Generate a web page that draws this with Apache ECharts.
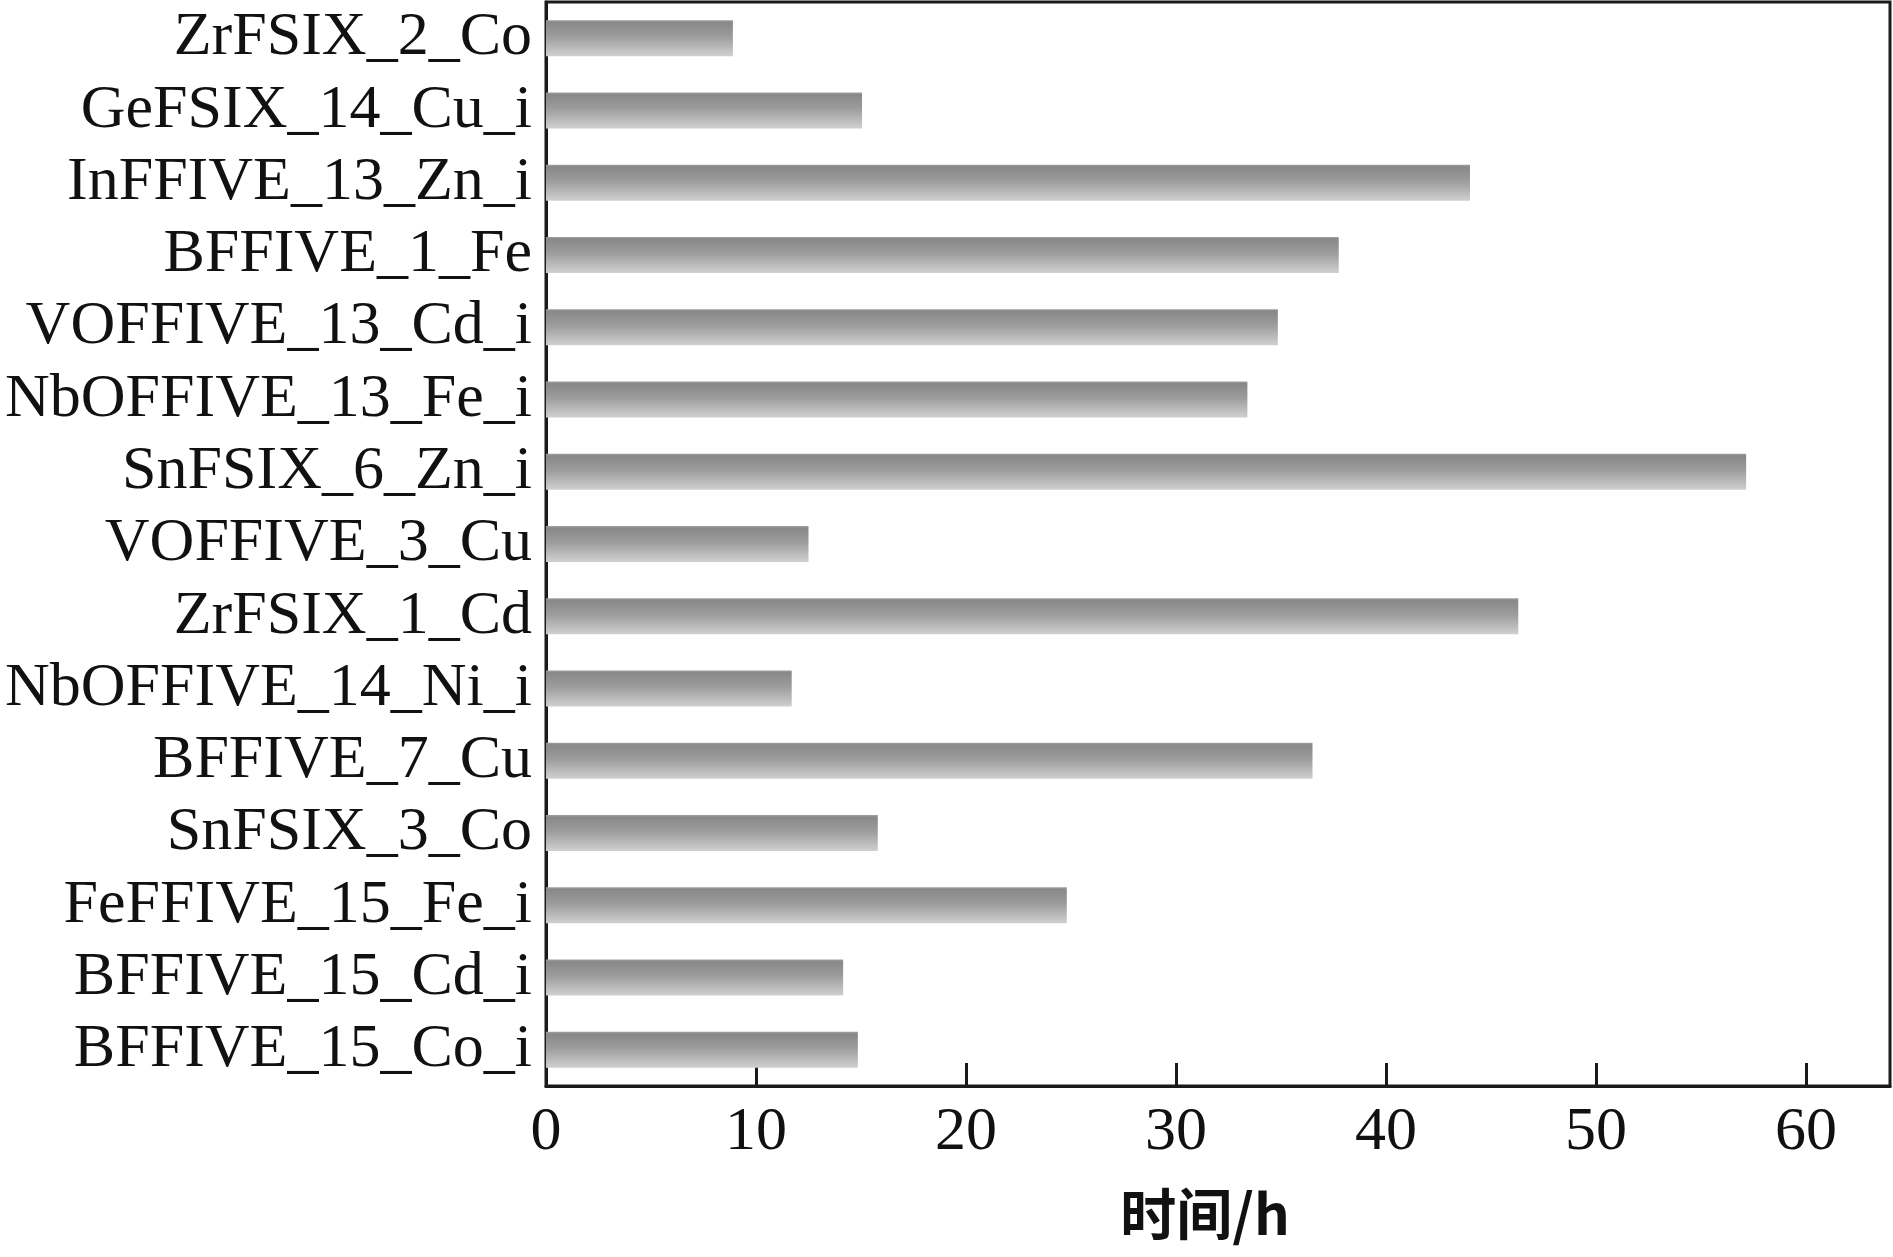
<!DOCTYPE html>
<html>
<head>
<meta charset="utf-8">
<script src="https://cdn.jsdelivr.net/npm/echarts@6/dist/echarts.min.js"></script>
<style>html,body{margin:0;padding:0;background:#fff}#c{width:1893px;height:1257px}</style>
</head>
<body>
<div id="c"></div>
<script>
const categories = ["ZrFSIX_2_Co","GeFSIX_14_Cu_i","InFFIVE_13_Zn_i","BFFIVE_1_Fe","VOFFIVE_13_Cd_i","NbOFFIVE_13_Fe_i","SnFSIX_6_Zn_i","VOFFIVE_3_Cu","ZrFSIX_1_Cd","NbOFFIVE_14_Ni_i","BFFIVE_7_Cu","SnFSIX_3_Co","FeFFIVE_15_Fe_i","BFFIVE_15_Cd_i","BFFIVE_15_Co_i"];
const values = [8.9, 15.05, 44.0, 37.75, 34.85, 33.4, 57.15, 12.5, 46.3, 11.7, 36.5, 15.8, 24.8, 14.15, 14.85];
const xTickInterval = 10;
const xMin = 0, xMax = 64;
const xAxisName = "时间/h";

const chart = echarts.init(document.getElementById('c'));
const serif = '"Liberation Serif","Times New Roman",serif';
chart.setOption({
  animation: false,
  backgroundColor: '#fff',
  grid: {left: 546, right: 3, top: 2, bottom: 171, containLabel: false,
         show: true, borderColor: '#1a1a1a', borderWidth: 3},
  xAxis: {
    type: 'value', min: xMin, max: xMax, interval: xTickInterval,
    name: xAxisName, nameLocation: 'middle', nameGap: 100,
    nameTextStyle: {fontFamily: '"Noto Sans CJK SC",sans-serif', fontWeight: 'bold', fontSize: 56, color: '#111', padding: [0, 26, 0, 0]},
    axisLine: {show: true, lineStyle: {color: '#1a1a1a', width: 3}},
    axisTick: {show: true, inside: true, length: 23, lineStyle: {color: '#1a1a1a', width: 3}},
    axisLabel: {fontFamily: serif, fontSize: 62, color: '#111', margin: 16, showMaxLabel: false},
    splitLine: {show: false}
  },
  yAxis: {
    type: 'category', data: categories, inverse: true,
    axisLine: {show: true, lineStyle: {color: '#1a1a1a', width: 3}},
    axisTick: {show: true, inside: true, alignWithLabel: true, interval: 0, length: 23, lineStyle: {color: '#1a1a1a', width: 3}},
    axisLabel: {fontFamily: serif, fontSize: 62, color: '#111', margin: 14, interval: 0},
    splitLine: {show: false}
  },
  series: [{
    type: 'bar', data: values, barWidth: 36,
    itemStyle: {
      color: new echarts.graphic.LinearGradient(0, 0, 0, 1, [
        {offset: 0, color: '#a0a0a0'},
        {offset: 0.06, color: '#888888'},
        {offset: 0.45, color: '#9c9c9c'},
        {offset: 1, color: '#d0d0d0'}
      ])
    }
  }]
});
</script>
</body>
</html>
